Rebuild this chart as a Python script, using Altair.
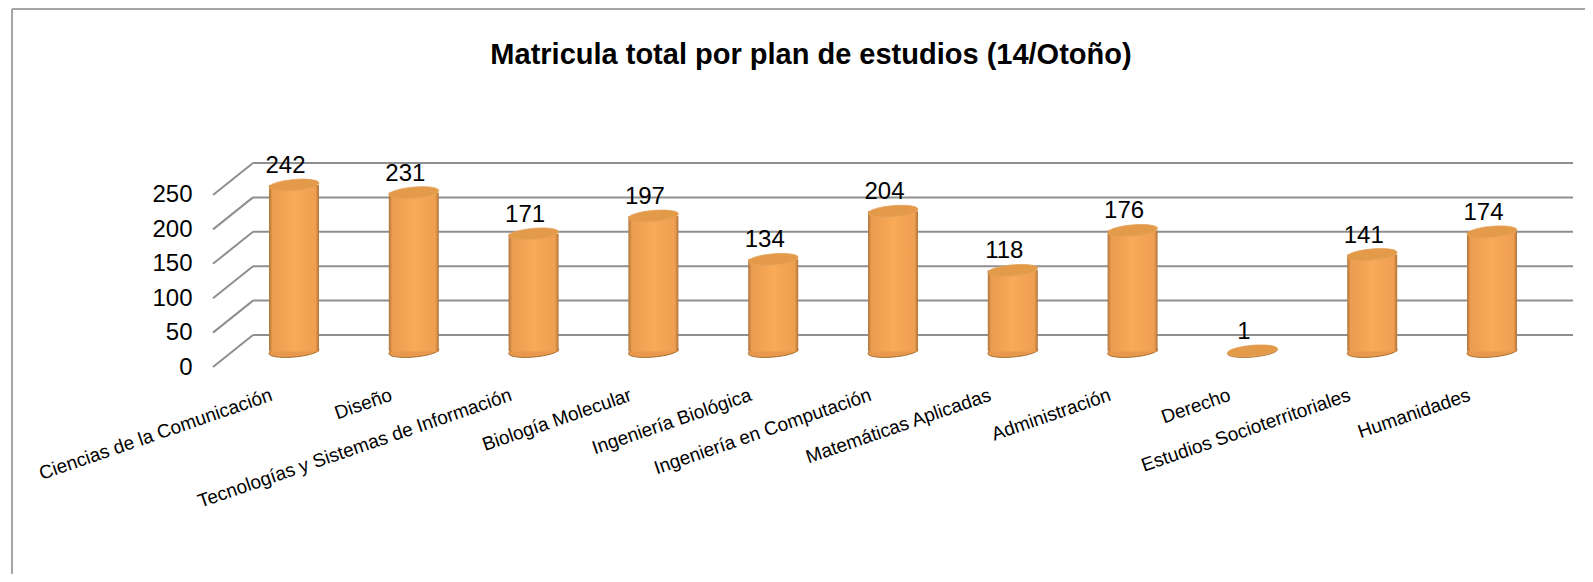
import altair as alt
import pandas as pd

categories = ["Ciencias de la Comunicación", "Diseño", "Tecnologías y Sistemas de Información",
              "Biología Molecular", "Ingeniería Biológica", "Ingeniería en Computación",
              "Matemáticas Aplicadas", "Administración", "Derecho",
              "Estudios Socioterritoriales", "Humanidades"]
values = [242, 231, 171, 197, 134, 204, 118, 176, 1, 141, 174]
ticks = [0, 50, 100, 150, 200, 250]
title = "Matricula total por plan de estudios (14/Otoño)"

BAR_DEPTH = 22.5
WALL_DEPTH = 46.5
Y_MAX = 296.5
WIDTH, HEIGHT = 1360, 204
FONT = "Liberation Sans"
GRID = "#8f8f8f"

df = pd.DataFrame({"cat": categories, "v": values})
df["base"] = BAR_DEPTH
df["top"] = df["v"] + BAR_DEPTH
grid = pd.DataFrame({"t": ticks})
grid["back"] = grid["t"] + WALL_DEPTH

yscale = alt.Scale(domain=[0, Y_MAX], range=[HEIGHT, 0], nice=False)
xscale = alt.Scale(type="point", domain=categories, range=[81, 1279], padding=0)
ELLIPSE = "M-0.995,0.07 A1,0.22,-5,1,1,0.995,-0.07 A1,0.22,-5,1,1,-0.995,0.07 Z"

xaxis = alt.Axis(title=None, domain=False, ticks=False, grid=False, labelAngle=-19, labelAlign="right",
                 labelBaseline="middle", labelFontSize=19, labelFont=FONT, labelColor="#000000",
                 labelPadding=27, labelOffset=-23, labelLimit=0, labelOverlap=False)
yaxis = alt.Axis(title=None, values=ticks, domain=False, ticks=False, grid=False,
                 labelFontSize=24, labelFont=FONT, labelColor="#000000", labelPadding=21)


def X():
    return alt.X("cat:N", scale=xscale, sort=categories, axis=xaxis)


def Y(field):
    return alt.Y(field, scale=yscale, axis=yaxis)


diag = alt.Chart(grid).mark_rule(color=GRID, strokeWidth=2).encode(
    x=alt.value(0), x2=alt.value(40), y=Y("t:Q"), y2="back:Q")
back = alt.Chart(grid).mark_rule(color=GRID, strokeWidth=2).encode(
    x=alt.value(40), x2=alt.value(WIDTH), y=Y("back:Q"))

gradient = alt.Gradient(gradient="linear", x1=0, x2=1, y1=0, y2=0, stops=[
    alt.GradientStop(color="#b0743a", offset=0),
    alt.GradientStop(color="#eb9d50", offset=0.07),
    alt.GradientStop(color="#f8aa57", offset=0.5),
    alt.GradientStop(color="#ef9f50", offset=0.93),
    alt.GradientStop(color="#b0743a", offset=1)])

bottoms = alt.Chart(df).mark_point(shape=ELLIPSE, size=2500, filled=True, opacity=1, fill="#e8994e",
                                   stroke="#a8702f", strokeWidth=1).encode(x=X(), y=Y("base:Q"))
bars = alt.Chart(df[df["v"] > 1]).mark_bar(size=50, fill=gradient).encode(
    x=X(), y=Y("base:Q"), y2="top:Q")
tops = alt.Chart(df).mark_point(shape=ELLIPSE, size=2500, filled=True, opacity=1, fill="#e39b4a",
                                stroke="#e6a25c", strokeWidth=0.8).encode(x=X(), y=Y("top:Q"))
labels = alt.Chart(df).mark_text(fontSize=24, font=FONT, color="#000000", baseline="alphabetic",
                                 dx=-8.5, dy=-12).encode(x=X(), y=Y("top:Q"), text="v:Q")

border_top = alt.Chart(grid.head(1)).mark_rule(color="#a6a6a6", strokeWidth=2).encode(
    x=alt.value(-201), x2=alt.value(1372), y=alt.value(-154))
border_left = alt.Chart(grid.head(1)).mark_rule(color="#a6a6a6", strokeWidth=2).encode(
    x=alt.value(-201), y=alt.value(-154), y2=alt.value(HEIGHT + 207))
title_mark = alt.Chart(grid.head(1)).mark_text(text=title, fontSize=29, font=FONT, fontWeight="bold",
                                               color="#000000", align="center", baseline="alphabetic").encode(
    x=alt.value(598), y=alt.value(-99))

chart = alt.layer(border_top, border_left, title_mark, diag, back, bottoms, bars, tops, labels).properties(
    width=WIDTH, height=HEIGHT,
    autosize=alt.AutoSizeParams(type="none"),
    padding={"left": 205, "top": 155, "right": 12, "bottom": 207},
).configure_view(stroke=None)

chart.save("out.html", embed_options={"renderer": "svg", "actions": False})
